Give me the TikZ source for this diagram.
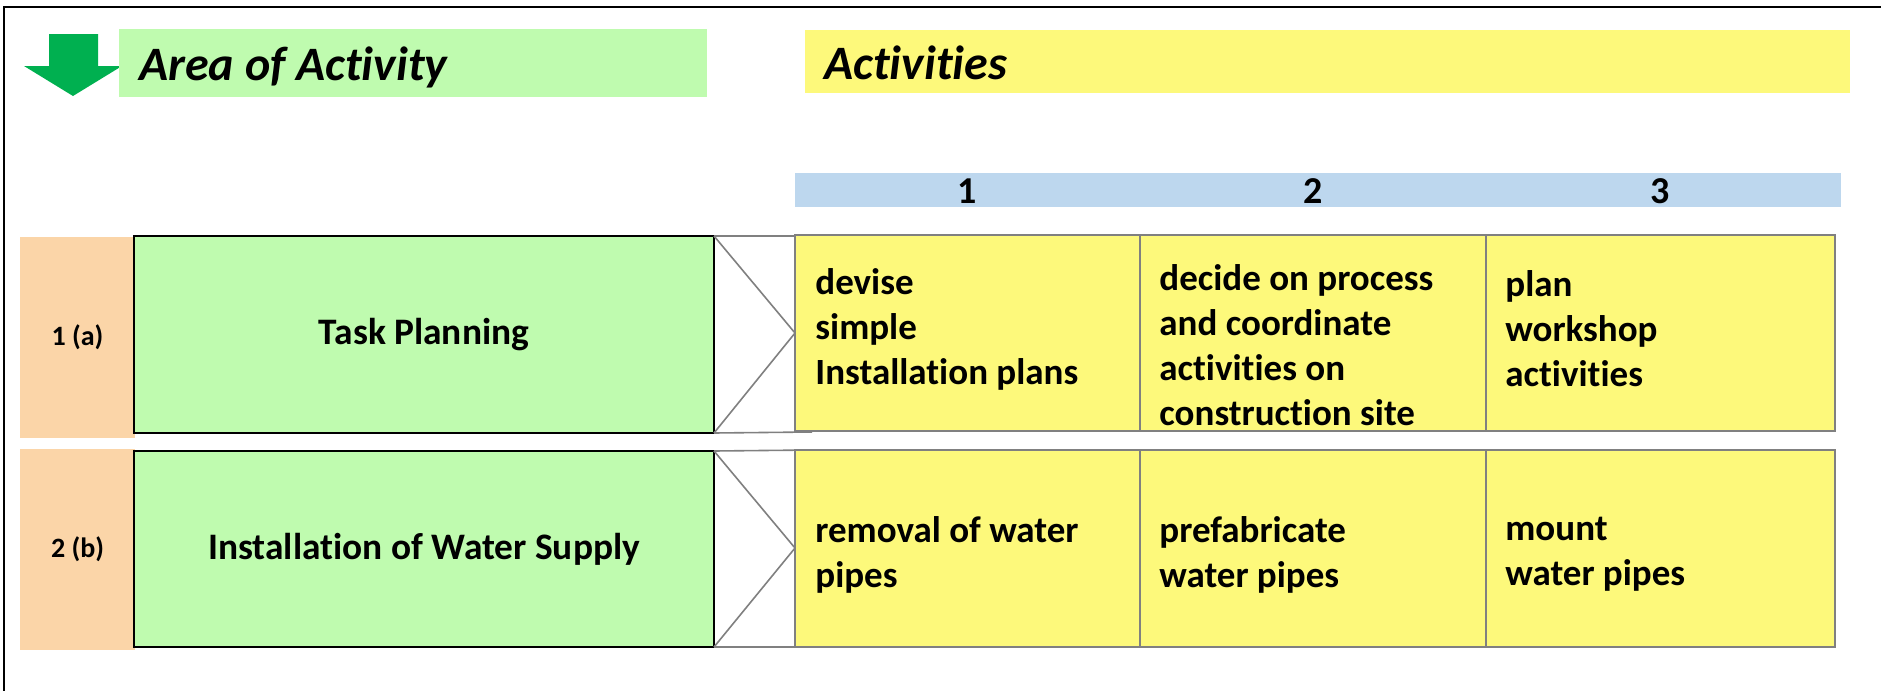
\documentclass[tikz,border=0pt]{standalone}
\usepackage{fontspec}
\setmainfont{Carlito}[Ligatures=NoCommon]
\usetikzlibrary{fit}
\definecolor{lgreen}{HTML}{BFFBAF}
\definecolor{lyellow}{HTML}{FDF97B}
\definecolor{lblue}{HTML}{BDD7EE}
\definecolor{lorange}{HTML}{FBD5A8}
\definecolor{agreen}{HTML}{00B050}
\definecolor{lgray}{HTML}{808080}
\tikzset{
  box/.style={inner sep=0pt, outer sep=0pt},
  areabox/.style={box, fill=lgreen, draw=black, line width=1pt},
  numbox/.style={box, fill=lorange},
  cellbox/.style={box, fill=lyellow, draw=lgray, line width=0.9pt},
  chevline/.style={draw=lgray, line width=0.8pt},
  celltxt/.style={anchor=west, align=left, inner sep=0pt, font=\bfseries\fontsize{18.5}{22.5}\selectfont},
  areatxt/.style={inner sep=0pt, font=\bfseries\fontsize{18.7}{22}\selectfont},
  numtxt/.style={inner sep=0pt, font=\bfseries\fontsize{14}{16}\selectfont},
  headtxt/.style={anchor=base, inner sep=0pt, font=\bfseries\fontsize{19}{22}\selectfont},
  titletxt/.style={anchor=base west, inner sep=0pt, font=\bfseries\itshape\fontsize{24}{28}\selectfont},
}
\begin{document}
\begin{tikzpicture}[x=0.5pt,y=-0.5pt]
\useasboundingbox (0,0) rectangle (1881,691);
\fill[white] (0,0) rectangle (1881,691);
% frame (top and left)
\coordinate (fbl) at (4,691);
\coordinate (ftl) at (4,7);
\coordinate (ftr) at (1881,7);
\draw[line width=1.3pt] (fbl) -- (ftl) -- (ftr);
% green arrow
\fill[agreen] (49,34) -- (98,34) -- (98,66) -- (122,66) -- (73,96) -- (24,66) -- (49,66) -- cycle;
% titles
\node[box, fill=lgreen, fit={(119,29)(707,97)}] (areatitle) {};
\node[titletxt] (areatitletxt) at (139,80) {Area of Activity};
\node[box, fill=lyellow, fit={(805,30)(1850,93)}] (acttitle) {};
\node[titletxt] (acttitletxt) at (824,79) {Activities};
% blue header
\node[box, fill=lblue, fit={(795,173)(1841,207)}] (header) {};
\node[headtxt] (h1) at (967,203) {1};
\node[headtxt] (h2) at (1313,203) {2};
\node[headtxt] (h3) at (1660,203) {3};
% row labels
\node[numbox, fit={(20,237)(135,438)}] (n1) {};
\node[numtxt] (n1t) at (n1.center) {1 (a)};
\node[numbox, fit={(20,449)(135,650)}] (n2) {};
\node[numtxt] (n2t) at (n2.center) {2 (b)};
% areas
\node[areabox, fit={(134,236)(714,433)}] (a1) {};
\node[areatxt] (a1t) at (a1.center) {Task Planning};
\node[areabox, fit={(134,451)(714,647)}] (a2) {};
\node[areatxt] (a2t) at (a2.center) {Installation of Water Supply};
% chevrons
\coordinate (c1tr) at (812,236);
\coordinate (c1br) at (812,432);
\coordinate (c1tip) at (795,333);
\draw[chevline] (a1.north east) -- (c1tr);
\draw[chevline] (a1.south east) -- (c1br);
\draw[chevline] (a1.north east) -- (c1tip) -- (a1.south east);
\coordinate (c2tr) at (812,450);
\coordinate (c2br) at (812,647);
\coordinate (c2tip) at (795,548);
\draw[chevline] (a2.north east) -- (c2tr);
\draw[chevline] (a2.south east) -- (c2br);
\draw[chevline] (a2.north east) -- (c2tip) -- (a2.south east);
% activity cells row 1
\node[cellbox, fit={(795,235)(1140,431)}] (c11) {};
\node[cellbox, fit={(1140,235)(1486,431)}] (c12) {};
\node[cellbox, fit={(1486,235)(1835,431)}] (c13) {};
\node[celltxt] (t11) at ([xshift=10pt,yshift=2pt]c11.west) {devise\\simple\\Installation plans};
\node[celltxt] (t12) at ([xshift=9.5pt,yshift=-6pt]c12.west) {decide on process\\and coordinate\\activities on\\construction site};
\node[celltxt] (t13) at ([xshift=9.5pt,yshift=2pt]c13.west) {plan\\workshop\\activities};
% activity cells row 2
\node[cellbox, fit={(795,450)(1140,647)}] (c21) {};
\node[cellbox, fit={(1140,450)(1486,647)}] (c22) {};
\node[cellbox, fit={(1486,450)(1835,647)}] (c23) {};
\node[celltxt] (t21) at ([xshift=10pt,yshift=-3pt]c21.west) {removal of water\\pipes};
\node[celltxt] (t22) at ([xshift=9.5pt,yshift=-3pt]c22.west) {prefabricate\\water pipes};
\node[celltxt] (t23) at ([xshift=9.5pt,yshift=-3pt]c23.west) {mount\\water pipes};
\end{tikzpicture}
\end{document}
